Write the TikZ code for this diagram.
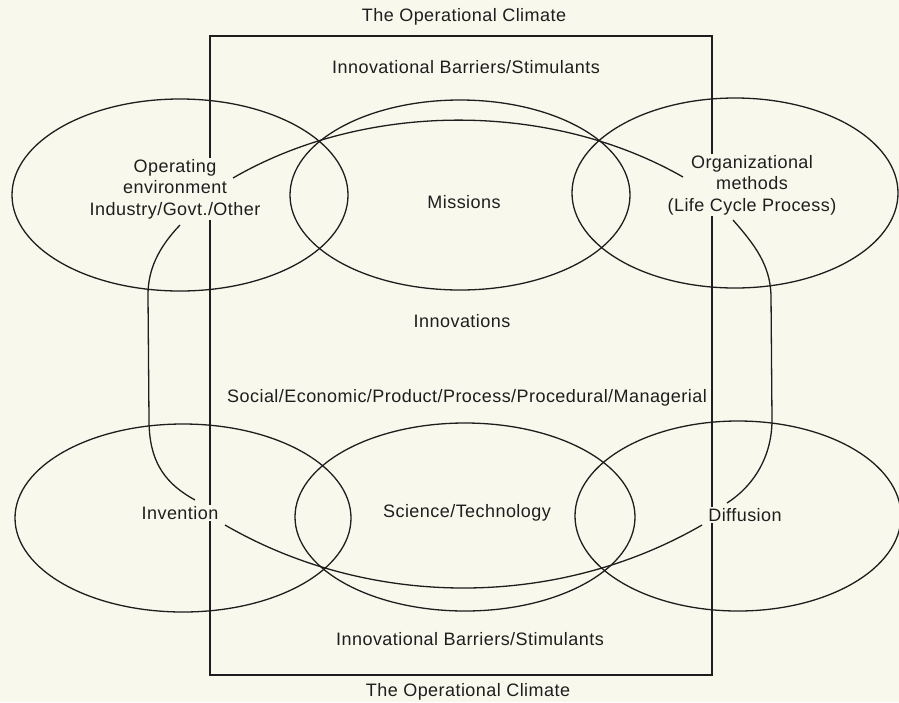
\documentclass[tikz,border=0pt]{standalone}
\usepackage{fontspec}
\setmainfont[LetterSpace=2.5]{Liberation Sans}
\usetikzlibrary{shapes.geometric}
\definecolor{paper}{RGB}{248,248,236}
\definecolor{ink}{RGB}{30,30,30}
\tikzset{
  oval/.style={draw=ink, line width=1.3pt, ellipse, inner sep=0pt},
  link/.style={draw=ink, line width=1.3pt},
  frame/.style={draw=ink, line width=1.1pt},
  lbl/.style={fill=paper, text=ink, inner sep=1.5pt, align=center, font=\fontsize{18}{21.5}\selectfont},
}
\begin{document}
\begin{tikzpicture}[x=1pt,y=-1pt]
\useasboundingbox (0,0) rectangle (899,702);
\fill[paper] (0,0) rectangle (899,702);
% frame
\coordinate (fTL) at (210,36);
\coordinate (fBR) at (712,675);
\draw[frame] (fTL) rectangle (fBR);
% labels
\node[lbl] (clTop) at (464,17) {The Operational Climate};
\node[lbl] (bsTop) at (466,67) {Innovational Barriers/Stimulants};
\node[lbl] (innov) at (462,321) {Innovations};
\node[lbl, inner sep=0pt] (social) at (467,398) {Social/Economic/Product/Process/Procedural/Managerial};
\node[lbl] (bsBot) at (470,639) {Innovational Barriers/Stimulants};
\node[lbl] (clBot) at (468,692) {The Operational Climate};
\node[lbl] (opEnvT) at (175,189) {Operating\\environment\\Industry/Govt./Other};
\node[lbl] (missT) at (464,202) {Missions};
\node[lbl] (orgT) at (752,185) {Organizational\\methods\\(Life Cycle Process)};
\node[lbl] (invT) at (180,513) {Invention};
\node[lbl] (sciT) at (467,513) {Science/Technology};
\node[lbl] (difT) at (745,515) {Diffusion};
% ellipses
\node[oval, minimum width=336pt, minimum height=192pt] (opEnv) at (180,195) {};
\node[oval, minimum width=340pt, minimum height=190pt] (miss) at (460,195) {};
\node[oval, minimum width=326pt, minimum height=190pt] (org) at (735,193) {};
\node[oval, minimum width=336pt, minimum height=188pt] (inv) at (183,518) {};
\node[oval, minimum width=340pt, minimum height=188pt] (sci) at (465,517) {};
\node[oval, minimum width=326pt, minimum height=190pt] (dif) at (738,516) {};
% connector ends
\coordinate (tA) at (233,178);
\coordinate (tB) at (683,177);
\coordinate (rA) at (733,220);
\coordinate (rB) at (727,503);
\coordinate (bA) at (702,525);
\coordinate (bB) at (225,525);
\coordinate (lA) at (195,500);
\coordinate (lB) at (180,225);
% connectors
\draw[link] (tA) .. controls (366,101) and (550,101) .. (tB);
\draw[link] (rA) .. controls (755,245) and (770,265) .. (771,295) -- (772,420) .. controls (772,455) and (755,485) .. (rB);
\draw[link] (bA) .. controls (557,609) and (370,609) .. (bB);
\draw[link] (lA) .. controls (168,485) and (149,465) .. (149,420) -- (148,295) .. controls (148,270) and (158,248) .. (lB);
\end{tikzpicture}
\end{document}
